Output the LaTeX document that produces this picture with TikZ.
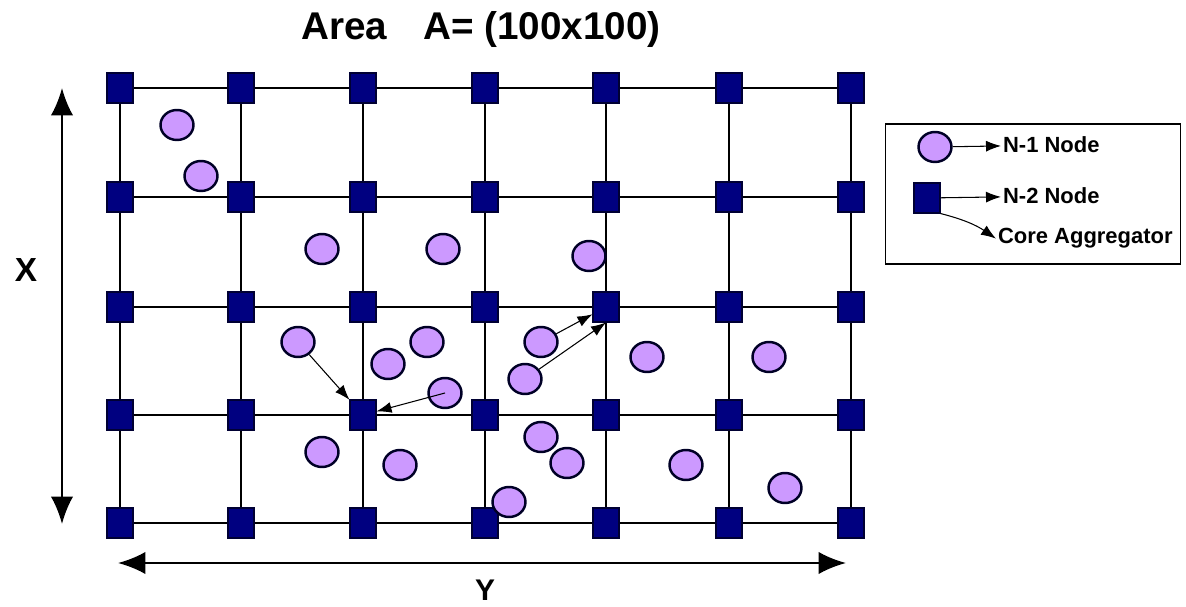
\documentclass[tikz,border=0pt]{standalone}
\usepackage{fontspec}
\setmainfont{Liberation Sans}
\usetikzlibrary{shapes,arrows.meta,positioning}
\definecolor{navybox}{RGB}{0,0,128}
\definecolor{lilac}{RGB}{204,153,255}

\begin{document}
\begin{tikzpicture}[x=0.02cm, y=-0.02cm, every node/.style={font=\bfseries}]
    \tikzstyle{hub} = [rectangle, draw=black!80!blue, fill=navybox, line width=0.6pt,
        minimum width=0.52cm, minimum height=0.6cm, inner sep=0pt]
    \tikzstyle{sensor} = [ellipse, draw=black!85!blue, fill=lilac, line width=1.4pt,
        minimum width=0.66cm, minimum height=0.6cm, inner sep=0pt]
    \tikzstyle{link} = [line width=1.4pt]
    \tikzstyle{hop} = [-{Latex[length=3mm,width=2.2mm]}, line width=0.6pt]
    \tikzstyle{span} = [{Latex[length=5.5mm,width=4.5mm]}-{Latex[length=5.5mm,width=4.5mm]}, line width=1.4pt]
    \tikzstyle{legtext} = [anchor=base west, inner sep=1pt, font=\fontsize{12.5}{14}\selectfont\bfseries]

    \useasboundingbox (0,0) rectangle (1186,607);

    % N-2 nodes on the grid
    \foreach \xp [count=\i] in {120,241,363,485,606,729,851}
      \foreach \yp [count=\j] in {88,197,307,415,523}
        \node (s-\i-\j) [hub] at (\xp,\yp) {};
    \foreach \j in {1,...,5}
      \foreach \i [count=\k from 2] in {1,...,6}
        \draw [link] (s-\i-\j) -- (s-\k-\j);
    \foreach \i in {1,...,7}
      \foreach \j [count=\k from 2] in {1,...,4}
        \draw [link] (s-\i-\j) -- (s-\i-\k);

    % N-1 nodes
    \foreach \xp/\yp [count=\n] in {177/125, 201/176, 322/249, 443/249, 589/256,
        298/342, 388/364, 427/342, 445/393, 541/342, 525/379, 647/357, 769/357,
        322/452, 400/465, 541/437, 567/463, 509/502, 686/465, 785/488}
      \node (c\n) [sensor] at (\xp,\yp) {};

    \draw [hop] (c6) -- (s-3-4);
    \draw [hop] (c9.center) -- (s-3-4);
    \draw [hop] (c10) -- (s-5-3);
    \draw [hop] (c11) -- (s-5-3.south);

    % dimensions
    \coordinate (xtop) at (62,88);
    \coordinate (xbot) at (62,524);
    \coordinate (yleft) at (118,563);
    \coordinate (yright) at (846,563);
    \draw [span] (xtop) -- (xbot);
    \draw [span] (yleft) -- (yright);
    \node (xlabel) [anchor=base, font=\fontsize{19}{22}\selectfont\bfseries] at (26,282) {X};
    \node (ylabel) [anchor=base, font=\fontsize{17}{20}\selectfont\bfseries] at (485,600) {Y};
    \node (title) [anchor=base, font=\fontsize{22}{26}\selectfont\bfseries] at (481,40)
        {Area\hspace{0.72cm}A= (100x100)};

    % legend
    \node (legend) [draw, line width=1pt, minimum width=5.9cm, minimum height=2.8cm] at (1033,194) {};
    \node (lc) [sensor] at (935,147) {};
    \node (lcText) [legtext] at (1001,153) {N-1 Node};
    \draw [hop] (lc) -- (lcText);
    \node (ls) [hub] at (927,198) {};
    \node (lsText) [legtext] at (1001,204) {N-2 Node};
    \draw [hop] (ls) -- (lsText);
    \node (lcore) [legtext] at (996,244) {Core Aggregator};
    \draw [hop] (ls.south east) to[bend left=10] (lcore.west);
\end{tikzpicture}
\end{document}
